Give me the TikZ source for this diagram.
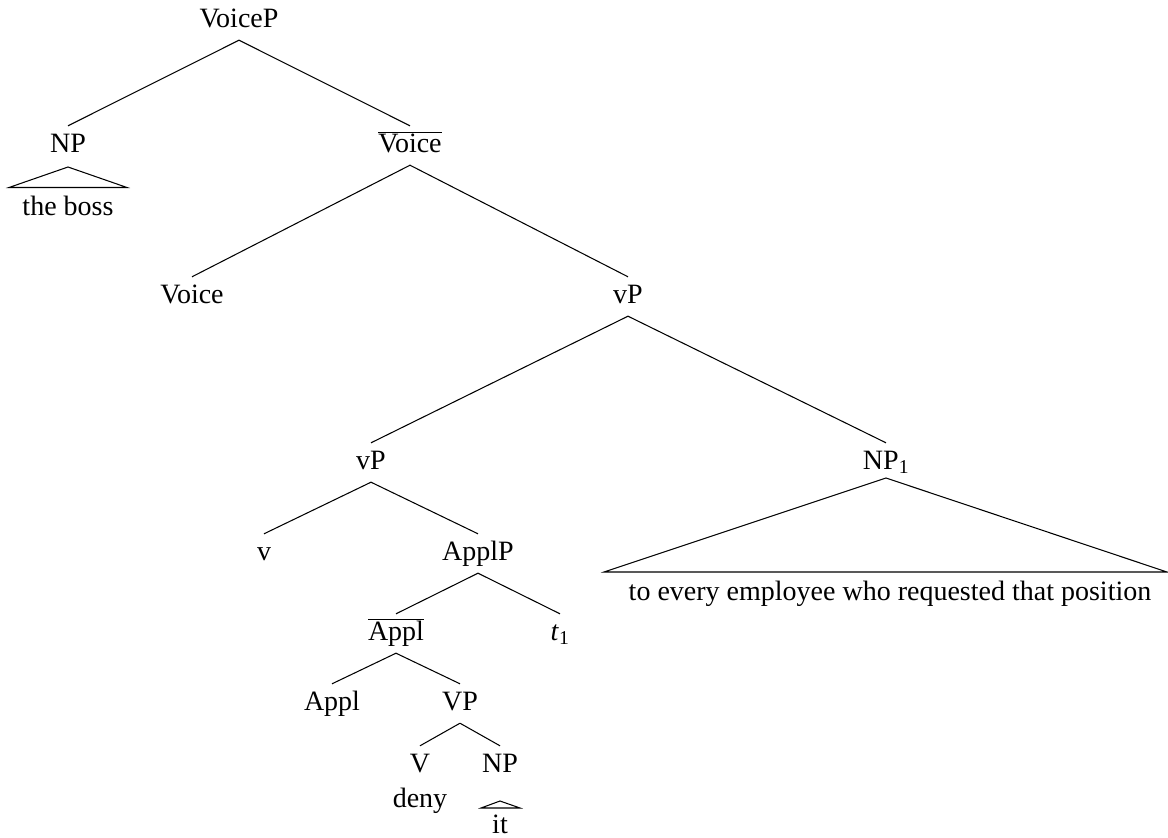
\documentclass[tikz,border=0pt]{standalone}
\usepackage{fontspec}
\setmainfont{Liberation Serif}
\newcommand\treefont{\fontsize{28}{34}\selectfont}
\tikzset{
  cat/.style={inner sep=0pt, text height=26pt, text depth=13pt, anchor=base, font=\treefont},
  word/.style={inner sep=0pt, anchor=base, font=\treefont},
  branch/.style={line width=1.05pt},
  roof/.style={line width=1.05pt, line join=miter}
}
\begin{document}
\begin{tikzpicture}[x=1pt, y=-1pt]
\useasboundingbox (0,0) rectangle (1168,838);

% categories
\node[cat] (VoiceP)   at (239,27)  {VoiceP};
\node[cat] (NPa)      at (68,152)  {NP};
\node[cat] (Voicebar) at (410,152) {$\overline{\mbox{Voice}}$};
\node[cat] (Voice)    at (192,303) {Voice};
\node[cat] (vPa)      at (628,303) {vP};
\node[cat] (vPb)      at (371,469) {vP};
\node[cat] (NPone)    at (886,469) {NP\textsubscript{1}};
\node[cat] (v)        at (264,560) {v};
\node[cat] (ApplP)    at (478,560) {ApplP};
\node[cat] (Applbar)  at (396,640) {$\overline{\mbox{Appl}}$};
\node[cat] (tone)     at (560,640) {\textit{t}\textsubscript{1}};
\node[cat] (Appl)     at (332,710) {Appl};
\node[cat] (VP)       at (460,710) {VP};
\node[cat] (V)        at (420,772) {V};
\node[cat] (NPb)      at (500,772) {NP};

% terminal strings
\node[word] (boss)  at (68,215)  {the boss};
\node[word] (every) at (890,600) {to every employee who requested that position};
\node[word] (deny)  at (420,807) {deny};
\node[word] (it)    at (500,833) {it};

% branches
\draw[branch] (VoiceP.south) -- (NPa.north);
\draw[branch] (VoiceP.south) -- (Voicebar.north);
\draw[branch] (Voicebar.south) -- (Voice.north);
\draw[branch] (Voicebar.south) -- (vPa.north);
\draw[branch] (vPa.south) -- (vPb.north);
\draw[branch] (vPa.south) -- (NPone.north);
\draw[branch] (vPb.south) -- (v.north);
\draw[branch] (vPb.south) -- (ApplP.north);
\draw[branch] (ApplP.south) -- (Applbar.north);
\draw[branch] (ApplP.south) -- (tone.north);
\draw[branch] (Applbar.south) -- (Appl.north);
\draw[branch] (Applbar.south) -- (VP.north);
\draw[branch] (VP.south) -- (V.north);
\draw[branch] (VP.south) -- (NPb.north);

% roofs
\coordinate (bossTop) at (68,167);
\coordinate (bossL) at (9,187.5);
\coordinate (bossR) at (127,187.5);
\draw[roof] (bossTop) -- (bossL) -- (bossR) -- cycle;

\coordinate (everyTop) at (886,478);
\coordinate (everyL) at (604,572);
\coordinate (everyR) at (1167,572);
\draw[roof] (everyTop) -- (everyL) -- (everyR) -- cycle;

\coordinate (itTop) at (500,801);
\coordinate (itL) at (481,808);
\coordinate (itR) at (520,808);
\draw[roof] (itTop) -- (itL) -- (itR) -- cycle;
\end{tikzpicture}
\end{document}
